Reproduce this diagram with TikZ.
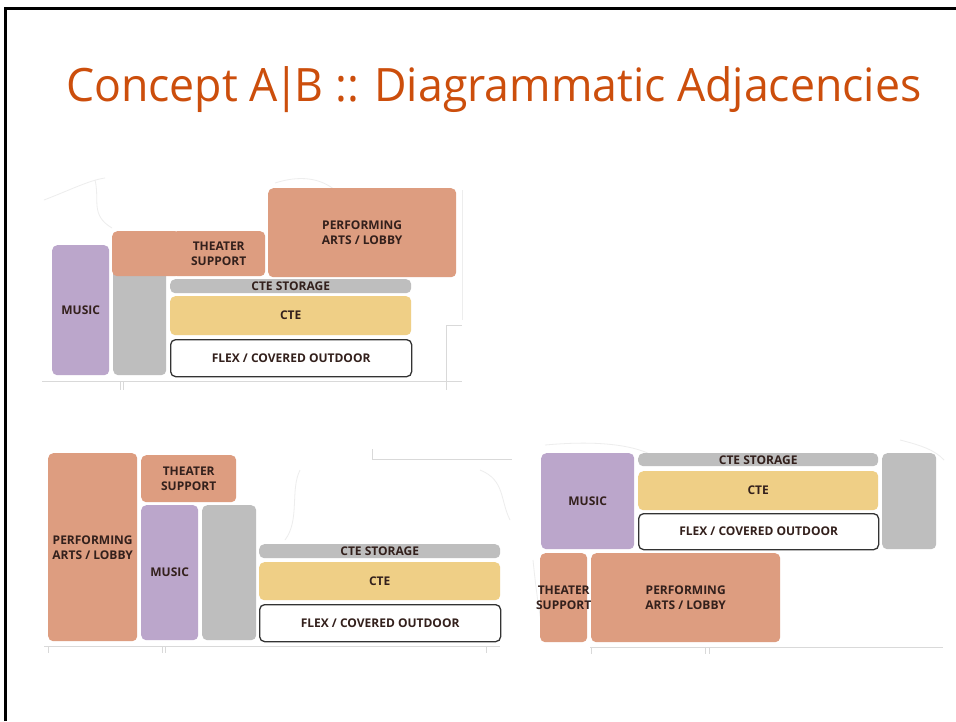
\documentclass[tikz,border=0pt]{standalone}
\usepackage{fontspec}
\setmainfont{Open Sans}
\newfontfamily\boxfont{Open Sans}
\definecolor{titleor}{HTML}{CC4E0C}
\definecolor{perf}{HTML}{DD9D80}
\definecolor{mus}{HTML}{BBA6CB}
\definecolor{stor}{HTML}{BEBEBE}
\definecolor{cte}{HTML}{EFCF86}
\definecolor{lbl}{HTML}{33201C}
\definecolor{site}{HTML}{D9D9D9}
\tikzset{
  zone/.style={rounded corners=5pt, inner sep=0pt, anchor=north west, align=center,
    font=\boxfont\bfseries\fontsize{12}{15}\selectfont, text=lbl},
  perfbox/.style={zone, fill=perf},
  musbox/.style={zone, fill=mus},
  storbox/.style={zone, fill=stor},
  ctebox/.style={zone, fill=cte},
  flexbox/.style={zone, fill=white, draw=black!80, line width=1.3pt},
  siteline/.style={draw=site, line width=0.9pt},
  faint/.style={draw=black!7, line width=0.8pt}
}
\newcommand{\zonebox}[7]{% style, name, x1, y1, x2, y2, text
  \node[#1, minimum width=#5pt-#3pt, minimum height=#6pt-#4pt] (#2) at (#3,#4) {#7};}
\begin{document}
\begin{tikzpicture}[x=1pt,y=-1pt]
\useasboundingbox (0,0) rectangle (956,721);
\fill[white] (0,0) rectangle (956,721);
% slide border
\draw[black, line width=2.4pt] (5.5,721) -- (5.5,8.5) -- (956,8.5);
% title
\node[anchor=base west, inner sep=0pt, text=titleor] (title) at (66,101)
  {\scalebox{0.97}[1]{\fontsize{46}{50}\selectfont Concept A\kern-4pt|\kern-4pt B :: Diagrammatic Adjacencies}};

% ---------- Diagram 1 (top left) ----------
\draw[faint] (44,200) .. controls (70,190) and (90,180) .. (105,178);
\draw[faint] (95,180) .. controls (100,200) and (90,215) .. (112,228);
\draw[faint] (275,183) .. controls (300,175) and (320,178) .. (335,190);
\draw[faint] (462,190) -- (462,320);
\draw[siteline] (42,381) -- (462,381);
\draw[siteline] (120,381) -- (120,390);
\draw[siteline] (123,381) -- (123,390);
\draw[siteline] (446,325) -- (446,390);
\draw[siteline] (446,325) -- (462,325);

\zonebox{musbox}{musA}{52}{245}{109}{375}{MUSIC}
\zonebox{storbox}{grayA}{113}{240}{166}{375}{}
\node[perfbox, minimum width=68pt, minimum height=45pt] (tsA0) at (112,231) {};
\zonebox{perfbox}{tsA}{172}{231}{265}{276}{THEATER\\SUPPORT}
\zonebox{perfbox}{paA}{268}{188}{456}{277}{PERFORMING\\ARTS / LOBBY}
\zonebox{storbox}{csA}{170}{279}{411}{293}{CTE STORAGE}
\zonebox{ctebox}{cteA}{170}{296}{411}{335}{CTE}
\zonebox{flexbox}{flA}{170}{339}{411}{376}{FLEX / COVERED OUTDOOR}

% ---------- Diagram 2 (bottom left) ----------
\draw[siteline] (372,449) -- (372,459) -- (512,459);
\draw[faint] (300,470) .. controls (290,490) and (300,520) .. (285,540);
\draw[faint] (480,470) .. controls (505,480) and (500,500) .. (510,520);
\draw[siteline] (44,646) -- (500,646);
\draw[siteline] (48,646) -- (48,653);
\draw[siteline] (162,646) -- (162,653);
\draw[siteline] (165,646) -- (165,653);
\draw[siteline] (486,646) -- (486,653);

\zonebox{perfbox}{paB}{48}{453}{137}{641}{PERFORMING\\ARTS / LOBBY}
\zonebox{perfbox}{tsB}{141}{455}{236}{502}{THEATER\\SUPPORT}
\zonebox{musbox}{musB}{141}{505}{198}{640}{MUSIC}
\zonebox{storbox}{grayB}{202}{505}{256}{640}{}
\zonebox{storbox}{csB}{259}{544}{500}{558}{CTE STORAGE}
\zonebox{ctebox}{cteB}{259}{562}{500}{600}{CTE}
\zonebox{flexbox}{flB}{259}{604}{500}{641}{FLEX / COVERED OUTDOOR}

% ---------- Diagram 3 (bottom right) ----------
\draw[faint] (545,445) .. controls (600,440) and (640,445) .. (660,460);
\draw[faint] (900,440) .. controls (920,445) and (935,450) .. (944,460);
\draw[faint] (533,560) .. controls (536,590) and (540,620) .. (545,640);
\draw[siteline] (590,647) -- (943,647);
\draw[siteline] (591,647) -- (591,654);
\draw[siteline] (705,647) -- (705,654);
\draw[siteline] (709,647) -- (709,654);

\zonebox{musbox}{musC}{541}{453}{634}{549}{MUSIC}
\zonebox{storbox}{csC}{638}{453}{878}{466}{CTE STORAGE}
\zonebox{ctebox}{cteC}{638}{471}{878}{510}{CTE}
\zonebox{flexbox}{flC}{638}{513}{878}{549}{FLEX / COVERED OUTDOOR}
\zonebox{storbox}{grayC}{882}{453}{936}{549}{}
\zonebox{perfbox}{tsC}{540}{553}{587}{642}{}
\node[font=\boxfont\bfseries\fontsize{12}{15}\selectfont, text=lbl, align=center, inner sep=0pt] (tsCt) at (tsC.center) {THEATER\\SUPPORT};
\zonebox{perfbox}{paC}{591}{553}{780}{642}{PERFORMING\\ARTS / LOBBY}
\end{tikzpicture}
\end{document}
